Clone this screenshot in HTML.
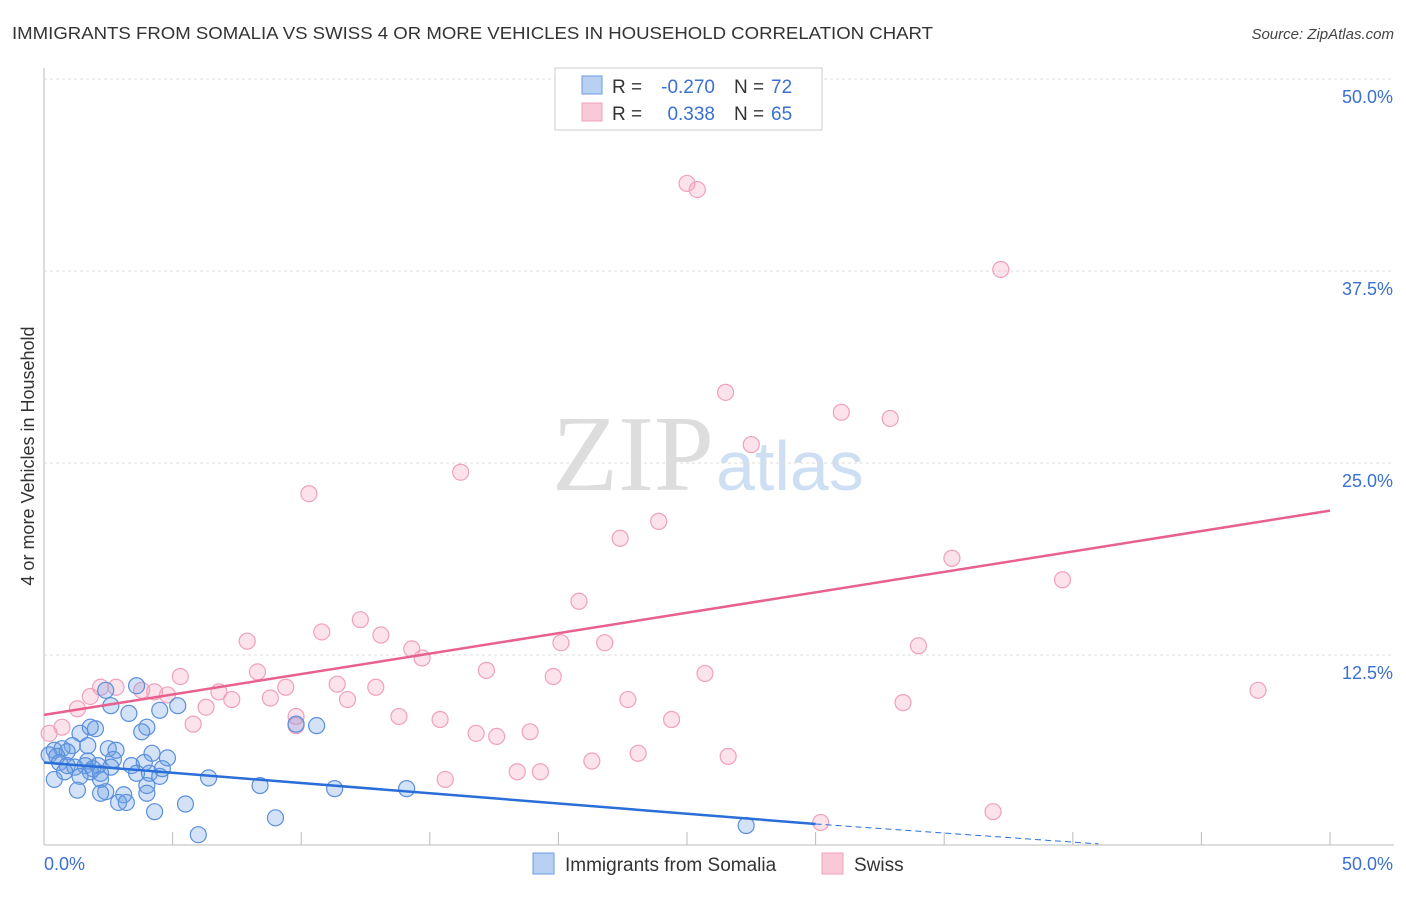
<!DOCTYPE html>
<html><head><meta charset="utf-8"><style>
body{margin:0;background:#fff;font-family:"Liberation Sans",sans-serif;}
</style></head><body>
<svg id="chart" width="1406" height="892" viewBox="0 0 1406 892" xmlns="http://www.w3.org/2000/svg" style="font-family:'Liberation Sans',sans-serif">
<text x="12" y="39" font-size="17.5" fill="#333" textLength="921" lengthAdjust="spacingAndGlyphs">IMMIGRANTS FROM SOMALIA VS SWISS 4 OR MORE VEHICLES IN HOUSEHOLD CORRELATION CHART</text>
<text x="1394" y="39" font-size="15" fill="#444" text-anchor="end" font-style="italic">Source: ZipAtlas.com</text>
<text x="714" y="490" font-size="108" fill="#ddd" text-anchor="end" font-family="Liberation Serif">ZIP</text>
<text x="716" y="490" font-size="70" fill="#cfdff3">atlas</text>
<text transform="translate(34,456) rotate(-90)" font-size="18" fill="#333" text-anchor="middle">4 or more Vehicles in Household</text>
<g id="grid"></g><g id="axes"></g><g id="pts"></g><g id="trend"></g>
<g>
<rect x="555" y="68" width="267" height="62" fill="#fff" stroke="#ccc"/>
<rect x="582" y="76" width="20" height="18" fill="#b8d1f3" stroke="#6b9be0"/>
<rect x="582" y="103" width="20" height="18" fill="#f9c9d8" stroke="#f0a0bc"/>
<text x="612" y="93" font-size="19" fill="#333">R =</text>
<text x="715" y="93" font-size="19" fill="#3a70d0" text-anchor="end">-0.270</text>
<text x="734" y="93" font-size="19" fill="#333">N =</text>
<text x="771" y="93" font-size="19" fill="#3a70d0">72</text>
<text x="612" y="120" font-size="19" fill="#333">R =</text>
<text x="715" y="120" font-size="19" fill="#3a70d0" text-anchor="end">0.338</text>
<text x="734" y="120" font-size="19" fill="#333">N =</text>
<text x="771" y="120" font-size="19" fill="#3a70d0">65</text>
</g>
<g>
<rect x="533" y="853" width="21" height="21" fill="#b8d1f3" stroke="#6b9be0"/>
<text x="565" y="871" font-size="19" fill="#333">Immigrants from Somalia</text>
<rect x="822" y="853" width="21" height="21" fill="#f9c9d8" stroke="#f0a0bc"/>
<text x="854" y="871" font-size="19" fill="#333">Swiss</text>
</g>
</svg>
<script>
const yTicks=[12.5,25.0,37.5,50.0];
const blueX=[3.6,2.4,2.6,5.2,4.5,3.3,1.8,2.0,4.0,3.8,1.4,9.8,10.6,1.7,1.1,0.4,0.7,0.9,2.5,2.8,4.2,0.2,0.5,4.8,2.7,1.7,3.9,0.6,3.4,2.1,1.6,0.9,1.2,2.6,1.9,1.8,0.8,2.2,3.6,4.1,4.5,0.4,6.4,1.4,2.2,8.4,4.0,11.3,14.1,1.3,2.4,3.1,2.2,4.0,2.9,3.2,5.5,4.3,9.0,6.0,27.3,4.6];
const blueY=[10.5,10.2,9.2,9.2,8.9,8.7,7.8,7.7,7.8,7.5,7.4,8.0,7.9,6.6,6.6,6.3,6.4,6.2,6.4,6.3,6.1,6.0,5.9,5.8,5.7,5.6,5.5,5.5,5.3,5.3,5.3,5.3,5.2,5.2,5.1,4.9,4.9,4.8,4.8,4.8,4.6,4.4,4.5,4.6,4.4,4.0,4.0,3.8,3.8,3.7,3.6,3.4,3.5,3.5,2.9,2.9,2.8,2.3,1.9,0.8,1.4,5.1];
const pinkX=[25.0,25.4,37.2,26.5,31.0,32.9,27.5,16.2,10.3,23.9,22.4,35.3,39.6,20.8,12.3,10.8,13.1,7.9,20.1,21.8,14.3,34.0,14.7,17.2,8.3,25.7,5.3,19.8,11.4,9.4,2.2,2.8,12.9,47.2,3.8,4.3,6.8,4.8,1.8,8.8,7.3,11.8,22.7,33.4,6.3,1.3,9.8,13.8,15.4,24.4,5.8,0.7,9.8,16.8,17.6,18.9,0.2,23.1,26.6,21.3,18.4,19.3,15.6,36.9,30.2];
const pinkY=[43.2,42.8,37.6,29.6,28.3,27.9,26.2,24.4,23.0,21.2,20.1,18.8,17.4,16.0,14.8,14.0,13.8,13.4,13.3,13.3,12.9,13.1,12.3,11.5,11.4,11.3,11.1,11.1,10.6,10.4,10.4,10.4,10.4,10.2,10.2,10.1,10.1,9.9,9.8,9.7,9.6,9.6,9.6,9.4,9.1,9.0,8.5,8.5,8.3,8.3,8.0,7.8,7.9,7.4,7.2,7.5,7.4,6.1,5.9,5.6,4.9,4.9,4.4,2.3,1.6];
const blueTrend=[[0,5.5],[30,1.5],[41,0.2]];
const pinkTrend=[[0,8.6],[50,21.9]];
const X=v=>44+v*25.72, Y=v=>847-v*15.36;
const NS='http://www.w3.org/2000/svg';
function mk(t,a,p){const e=document.createElementNS(NS,t);for(const k in a)e.setAttribute(k,a[k]);p.appendChild(e);return e;}
const grid=document.getElementById('grid'),axes=document.getElementById('axes'),pts=document.getElementById('pts'),tr=document.getElementById('trend');
yTicks.forEach(t=>{const l=mk('line',{x1:44,x2:1394,y1:Y(t),y2:Y(t),stroke:'#ddd','stroke-dasharray':'3,3'},grid);

const tx=mk('text',{x:1393,y:Y(t)+24,'font-size':18,fill:'#3a70d0','text-anchor':'end'},grid);tx.textContent=t.toFixed(1)+'%';
});
const ax=mk('line',{x1:44,x2:1394,y1:845,y2:845,stroke:'#bbb'},axes);

const ay=mk('line',{x1:44,x2:44,y1:68,y2:845,stroke:'#bbb'},axes);

for(let i=1;i<=10;i++){const t=mk('line',{x1:X(i*5),x2:X(i*5),y1:832,y2:845,stroke:'#bbb'},axes);
}
[['0.0%',44,'start'],['50.0%',1393,'end']].forEach(a=>{const t=mk('text',{x:a[1],y:870,'font-size':18,fill:'#3a70d0','text-anchor':a[2]},axes);t.textContent=a[0];
});
pinkX.forEach((v,i)=>{const c=mk('circle',{cx:X(v),cy:Y(pinkY[i]),r:8,fill:'rgba(244,160,188,0.3)',stroke:'#f0a0bc','stroke-width':1.2},pts);
});
blueX.forEach((v,i)=>{const c=mk('circle',{cx:X(v),cy:Y(blueY[i]),r:8,fill:'rgba(110,160,230,0.3)',stroke:'#5a8fdc','stroke-width':1.2},pts);
});
const pl=mk('line',{x1:X(pinkTrend[0][0]),y1:Y(pinkTrend[0][1]),x2:X(pinkTrend[1][0]),y2:Y(pinkTrend[1][1]),stroke:'#e8608e','stroke-width':2.5},tr);

const bl=mk('line',{x1:X(blueTrend[0][0]),y1:Y(blueTrend[0][1]),x2:X(blueTrend[1][0]),y2:Y(blueTrend[1][1]),stroke:'#2a6ed8','stroke-width':2.5},tr);

const bd=mk('line',{x1:X(blueTrend[1][0]),y1:Y(blueTrend[1][1]),x2:X(blueTrend[2][0]),y2:Y(blueTrend[2][1]),stroke:'#2a6ed8','stroke-width':1,'stroke-dasharray':'6,4'},tr);

</script>
</body></html>
